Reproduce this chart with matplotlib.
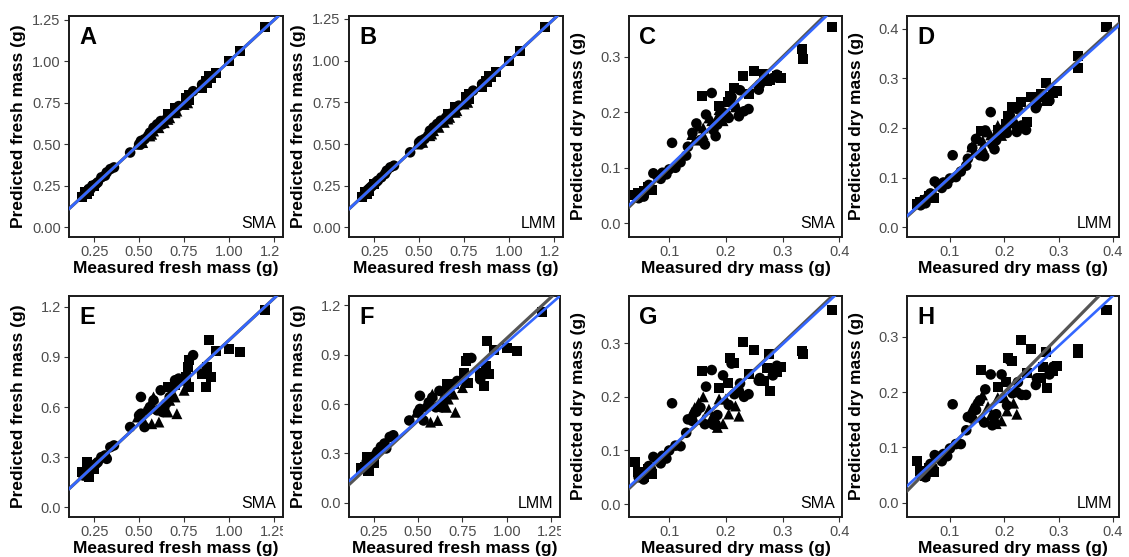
import matplotlib
matplotlib.use("Agg")
import matplotlib.pyplot as plt
from matplotlib.transforms import Bbox, TransformedBbox

plt.rcParams['font.family'] = ['Liberation Sans', 'DejaVu Sans']

W, H, DPI = 1129, 557, 100

# ---------------- fresh mass (g) ----------------
fresh_shape = ['s'] * 20 + ['o'] * 29 + ['^'] * 13
fresh_measured = [
    1.20, 1.06, 1.00, 0.93, 0.89, 0.87, 0.90, 0.78, 0.77, 0.78, 0.70, 0.85, 0.88, 0.20, 0.21, 0.22, 0.18, 0.25, 0.76, 0.66,
    0.45, 0.53, 0.51, 0.62, 0.72, 0.80, 0.85, 0.34, 0.31, 0.27, 0.23, 0.51, 0.56, 0.65, 0.60, 0.67, 0.58, 0.36, 0.32, 0.29,
    0.19, 0.24, 0.21, 0.50, 0.70, 0.63, 0.26, 0.22, 0.55,
    0.71, 0.61, 0.58, 0.67, 0.75, 0.56, 0.52, 0.49, 0.64, 0.70, 0.57, 0.77, 0.66]
fresh_pred_A = [
    1.21, 1.06, 1.00, 0.93, 0.91, 0.88, 0.90, 0.80, 0.78, 0.77, 0.72, 0.84, 0.87, 0.21, 0.20, 0.22, 0.18, 0.25, 0.78, 0.68,
    0.45, 0.53, 0.52, 0.64, 0.73, 0.82, 0.86, 0.35, 0.31, 0.27, 0.23, 0.50, 0.57, 0.65, 0.62, 0.68, 0.60, 0.36, 0.33, 0.30,
    0.19, 0.25, 0.21, 0.50, 0.70, 0.62, 0.26, 0.23, 0.55,
    0.70, 0.60, 0.58, 0.66, 0.74, 0.55, 0.51, 0.50, 0.63, 0.69, 0.56, 0.75, 0.65]
fresh_pred_B = [
    1.20, 1.06, 1.00, 0.93, 0.91, 0.88, 0.90, 0.80, 0.78, 0.77, 0.72, 0.84, 0.87, 0.21, 0.20, 0.22, 0.18, 0.26, 0.78, 0.68,
    0.45, 0.53, 0.52, 0.64, 0.73, 0.82, 0.86, 0.36, 0.32, 0.28, 0.24, 0.50, 0.58, 0.66, 0.62, 0.68, 0.60, 0.37, 0.34, 0.30,
    0.19, 0.25, 0.22, 0.51, 0.71, 0.63, 0.27, 0.23, 0.55,
    0.70, 0.60, 0.58, 0.66, 0.74, 0.55, 0.51, 0.50, 0.63, 0.69, 0.56, 0.75, 0.65]
fresh_pred_E = [
    1.18, 0.93, 0.945, 0.935, 1.00, 0.72, 0.78, 0.88, 0.84, 0.72, 0.73, 0.80, 0.84, 0.21, 0.27, 0.18, 0.21, 0.23, 0.78, 0.72,
    0.48, 0.48, 0.66, 0.70, 0.77, 0.91, 0.80, 0.36, 0.31, 0.27, 0.23, 0.56, 0.60, 0.62, 0.58, 0.66, 0.64, 0.37, 0.29, 0.30,
    0.19, 0.24, 0.22, 0.55, 0.76, 0.57, 0.26, 0.20, 0.58,
    0.56, 0.51, 0.66, 0.64, 0.70, 0.61, 0.53, 0.54, 0.62, 0.66, 0.50, 0.76, 0.57]
fresh_pred_F = [
    1.16, 0.92, 0.94, 0.93, 0.985, 0.71, 0.78, 0.88, 0.86, 0.73, 0.72, 0.79, 0.83, 0.22, 0.28, 0.19, 0.21, 0.24, 0.79, 0.72,
    0.50, 0.50, 0.65, 0.68, 0.74, 0.88, 0.75, 0.40, 0.36, 0.31, 0.26, 0.57, 0.61, 0.63, 0.58, 0.68, 0.64, 0.41, 0.33, 0.34,
    0.21, 0.27, 0.25, 0.55, 0.72, 0.58, 0.29, 0.24, 0.58,
    0.55, 0.50, 0.66, 0.63, 0.70, 0.60, 0.53, 0.55, 0.62, 0.66, 0.49, 0.76, 0.58]

# ---------------- dry mass (g) ----------------
dry_shape = ['s'] * 22 + ['o'] * 38 + ['^'] * 14
dry_measured = [
    0.388, 0.335, 0.336, 0.158, 0.230, 0.250, 0.214, 0.207, 0.241, 0.277, 0.297, 0.272, 0.278, 0.290, 0.188, 0.203,
    0.040, 0.045, 0.055, 0.062, 0.268, 0.070,
    0.175, 0.105, 0.258, 0.130, 0.163, 0.182, 0.165, 0.141, 0.223, 0.232, 0.205, 0.100, 0.111, 0.088, 0.079, 0.064,
    0.072, 0.095, 0.050, 0.058, 0.068, 0.085, 0.210, 0.215, 0.225, 0.185, 0.148, 0.120, 0.046, 0.055, 0.240, 0.290,
    0.283, 0.260, 0.195, 0.155, 0.133, 0.178,
    0.188, 0.152, 0.140, 0.170, 0.185, 0.205, 0.217, 0.223, 0.200, 0.160, 0.175, 0.195, 0.160, 0.145]
dry_pred_C = [
    0.355, 0.314, 0.296, 0.230, 0.265, 0.275, 0.244, 0.229, 0.234, 0.259, 0.262, 0.256, 0.258, 0.265, 0.212, 0.218,
    0.050, 0.055, 0.058, 0.065, 0.270, 0.060,
    0.235, 0.145, 0.241, 0.122, 0.142, 0.157, 0.196, 0.163, 0.193, 0.202, 0.190, 0.097, 0.100, 0.091, 0.085, 0.069,
    0.090, 0.088, 0.052, 0.057, 0.062, 0.080, 0.228, 0.212, 0.240, 0.178, 0.180, 0.110, 0.045, 0.048, 0.206, 0.268,
    0.262, 0.250, 0.200, 0.150, 0.138, 0.168,
    0.205, 0.175, 0.160, 0.190, 0.192, 0.198, 0.210, 0.205, 0.195, 0.172, 0.185, 0.185, 0.160, 0.150]
dry_pred_D = [
    0.404, 0.345, 0.322, 0.193, 0.252, 0.262, 0.243, 0.225, 0.212, 0.291, 0.275, 0.262, 0.255, 0.270, 0.195, 0.208,
    0.046, 0.050, 0.055, 0.062, 0.268, 0.058,
    0.232, 0.145, 0.240, 0.124, 0.143, 0.157, 0.195, 0.160, 0.192, 0.205, 0.190, 0.098, 0.101, 0.090, 0.085, 0.068,
    0.092, 0.087, 0.053, 0.058, 0.063, 0.079, 0.226, 0.210, 0.238, 0.175, 0.178, 0.112, 0.044, 0.048, 0.196, 0.272,
    0.255, 0.246, 0.196, 0.145, 0.138, 0.166,
    0.205, 0.178, 0.162, 0.192, 0.190, 0.200, 0.212, 0.208, 0.197, 0.175, 0.186, 0.185, 0.162, 0.152]
dry_pred_G = [
    0.362, 0.286, 0.279, 0.248, 0.303, 0.287, 0.264, 0.273, 0.242, 0.279, 0.256, 0.254, 0.211, 0.246, 0.217, 0.225,
    0.078, 0.060, 0.050, 0.065, 0.230, 0.057,
    0.250, 0.188, 0.230, 0.133, 0.149, 0.149, 0.219, 0.155, 0.211, 0.200, 0.185, 0.100, 0.109, 0.090, 0.084, 0.071,
    0.088, 0.085, 0.055, 0.060, 0.065, 0.076, 0.262, 0.205, 0.225, 0.166, 0.172, 0.108, 0.050, 0.046, 0.205, 0.258,
    0.240, 0.235, 0.240, 0.180, 0.158, 0.148,
    0.196, 0.189, 0.171, 0.177, 0.143, 0.168, 0.183, 0.164, 0.196, 0.158, 0.162, 0.150, 0.200, 0.180]
dry_pred_H = [
    0.348, 0.278, 0.270, 0.240, 0.294, 0.278, 0.256, 0.262, 0.235, 0.272, 0.248, 0.245, 0.207, 0.238, 0.210, 0.218,
    0.076, 0.058, 0.049, 0.063, 0.225, 0.056,
    0.232, 0.178, 0.213, 0.131, 0.145, 0.145, 0.205, 0.152, 0.200, 0.195, 0.176, 0.098, 0.106, 0.088, 0.083, 0.070,
    0.086, 0.084, 0.055, 0.059, 0.064, 0.075, 0.258, 0.198, 0.218, 0.160, 0.168, 0.106, 0.050, 0.046, 0.195, 0.246,
    0.232, 0.225, 0.232, 0.185, 0.155, 0.140,
    0.190, 0.185, 0.170, 0.174, 0.143, 0.166, 0.180, 0.160, 0.192, 0.155, 0.158, 0.148, 0.195, 0.178]

# fitted lines (intercept, slope) for each panel
fit_A = (0.000, 1.000)
fit_B = (0.000, 1.000)
fit_C = (0.004, 0.980)
fit_D = (0.002, 0.985)
fit_E = (0.000, 1.000)
fit_F = (0.029, 0.945)
fit_G = (0.004, 0.980)
fit_H = (0.011, 0.909)

fresh_ticks = [0.25, 0.50, 0.75, 1.00, 1.25]
fresh_ticklabels = ['0.25', '0.50', '0.75', '1.00', '1.25']
fresh_y_ticks_ab = [0.00, 0.25, 0.50, 0.75, 1.00, 1.25]
fresh_y_labels_ab = ['0.00', '0.25', '0.50', '0.75', '1.00', '1.25']
fresh_y_ticks_ef = [0.0, 0.3, 0.6, 0.9, 1.2]
fresh_y_labels_ef = ['0.0', '0.3', '0.6', '0.9', '1.2']
dry_ticks = [0.1, 0.2, 0.3, 0.4]
dry_ticklabels = ['0.1', '0.2', '0.3', '0.4']
dry_y_ticks = [0.0, 0.1, 0.2, 0.3]
dry_y_labels = ['0.0', '0.1', '0.2', '0.3']
dry_y_ticks_d = [0.0, 0.1, 0.2, 0.3, 0.4]
dry_y_labels_d = ['0.0', '0.1', '0.2', '0.3', '0.4']

FRESH_X = 'Measured fresh mass (g)'
FRESH_Y = 'Predicted fresh mass (g)'
DRY_X = 'Measured dry mass (g)'
DRY_Y = 'Predicted dry mass (g)'

# pixel frames (left, top, right, bottom) and column clip edges for x tick labels
panels = [
    ('A', fresh_measured, fresh_pred_A, (0.11, 1.30), (-0.060, 1.274), fresh_ticks, fresh_ticklabels,
     fresh_y_ticks_ab, fresh_y_labels_ab, FRESH_X, FRESH_Y, 'SMA', fit_A, fresh_shape, (69, 16, 283, 237), (0, 280)),
    ('B', fresh_measured, fresh_pred_B, (0.11, 1.30), (-0.058, 1.268), fresh_ticks, fresh_ticklabels,
     fresh_y_ticks_ab, fresh_y_labels_ab, FRESH_X, FRESH_Y, 'LMM', fit_B, fresh_shape, (349, 16, 563, 237), (280, 560)),
    ('C', dry_measured, dry_pred_C, (0.029, 0.405), (-0.025, 0.374), dry_ticks, dry_ticklabels,
     dry_y_ticks, dry_y_labels, DRY_X, DRY_Y, 'SMA', fit_C, dry_shape, (629, 16, 842, 237), (560, 850)),
    ('D', dry_measured, dry_pred_D, (0.021, 0.411), (-0.020, 0.426), dry_ticks, dry_ticklabels,
     dry_y_ticks_d, dry_y_labels_d, DRY_X, DRY_Y, 'LMM', fit_D, dry_shape, (907, 16, 1119, 237), (850, 1129)),
    ('E', fresh_measured, fresh_pred_E, (0.11, 1.30), (-0.058, 1.264), fresh_ticks, fresh_ticklabels,
     fresh_y_ticks_ef, fresh_y_labels_ef, FRESH_X, FRESH_Y, 'SMA', fit_E, fresh_shape, (69, 296, 283, 517), (0, 283)),
    ('F', fresh_measured, fresh_pred_F, (0.11, 1.30), (-0.087, 1.257), fresh_ticks, fresh_ticklabels,
     fresh_y_ticks_ef, fresh_y_labels_ef, FRESH_X, FRESH_Y, 'LMM', fit_F, fresh_shape, (349, 296, 560, 517), (283, 561)),
    ('G', dry_measured, dry_pred_G, (0.029, 0.405), (-0.024, 0.388), dry_ticks, dry_ticklabels,
     dry_y_ticks, dry_y_labels, DRY_X, DRY_Y, 'SMA', fit_G, dry_shape, (629, 296, 842, 517), (561, 850)),
    ('H', dry_measured, dry_pred_H, (0.021, 0.411), (-0.026, 0.374), dry_ticks, dry_ticklabels,
     dry_y_ticks, dry_y_labels, DRY_X, DRY_Y, 'LMM', fit_H, dry_shape, (907, 296, 1119, 517), (850, 1129)),
]

marker_size = {'o': 58, 's': 52, '^': 62}

fig = plt.figure(figsize=(W / DPI, H / DPI), dpi=DPI)
fig.patch.set_facecolor('white')

clip_jobs = []
for (letter, xs, ys, xlim, ylim, xt, xtl, yt, ytl, xlab, ylab, method, fit, shapes, frame, clipx) in panels:
    l, t, r, b = frame
    ax = fig.add_axes([l / W, (H - b) / H, (r - l) / W, (b - t) / H])
    for mk in ('s', 'o', '^'):
        px = [x for x, s in zip(xs, shapes) if s == mk]
        py = [y for y, s in zip(ys, shapes) if s == mk]
        ax.scatter(px, py, marker=mk, s=marker_size[mk], c='black', edgecolors='none', zorder=2)
    ax.axline((0, 0), slope=1, color='#555555', lw=2.3, zorder=3)
    ax.axline((0, fit[0]), slope=fit[1], color='#3366FF', lw=1.9, zorder=4)
    ax.set_xlim(*xlim)
    ax.set_ylim(*ylim)
    ax.set_xticks(xt)
    ax.set_xticklabels(xtl)
    ax.set_yticks(yt)
    ax.set_yticklabels(ytl)
    ax.tick_params(axis='both', direction='out', length=3.5, width=0.8, color='#333333',
                   labelsize=10.5, labelcolor='#4D4D4D', pad=2.5)
    for sp in ax.spines.values():
        sp.set_linewidth(1.4)
        sp.set_color('#1a1a1a')
    hpx = b - t
    wpx = r - l
    ax.text(10 / wpx, 1 - 28 / hpx, letter, transform=ax.transAxes, fontsize=17, fontweight='bold',
            ha='left', va='baseline')
    ax.text(1 - 7 / wpx, 9 / hpx, method, transform=ax.transAxes, fontsize=11.5,
            ha='right', va='baseline')
    ax.text(0.5, -32 / hpx, xlab, transform=ax.transAxes, fontsize=12.5, fontweight='bold',
            ha='center', va='center')
    ax.text(-50 / wpx, 0.5, ylab, transform=ax.transAxes,
            fontsize=12.5, fontweight='bold', rotation=90, ha='center', va='center')
    clip_jobs.append((ax, clipx))

# trim x tick labels at the column boundary
for ax, (x0, x1) in clip_jobs:
    box = TransformedBbox(Bbox.from_extents(x0 / W, 0, x1 / W, 1), fig.transFigure)
    for lab in ax.get_xticklabels():
        lab.set_clip_on(True)
        lab.set_clip_box(box)

fig.savefig('out.png', dpi=DPI, facecolor='white')
